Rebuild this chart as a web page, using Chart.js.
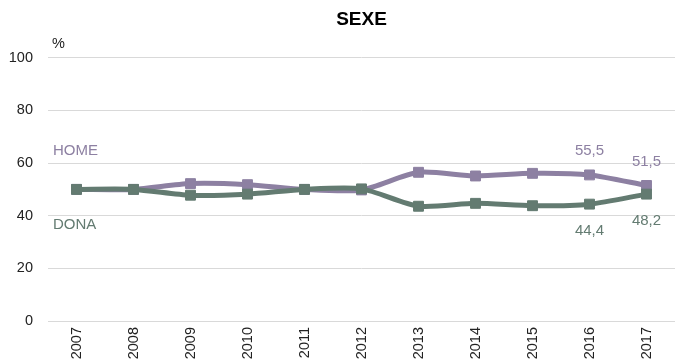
<!DOCTYPE html>
<html lang="ca">
<head>
  <meta charset="UTF-8">
  <title>SEXE</title>
  <script src="https://cdn.jsdelivr.net/npm/chart.js"></script>
  <style>
    html, body { margin: 0; padding: 0; background: #fff; }
    #wrap { width: 683px; height: 363px; }
  </style>
</head>
<body>
  <div id="wrap"><canvas id="sexeChart"></canvas></div>

  <script>
    // Dades
    const anys = ['2007', '2008', '2009', '2010', '2011', '2012', '2013', '2014', '2015', '2016', '2017'];
    const home = [50, 50, 52.2, 51.8, 50, 49.8, 56.5, 55.1, 56.1, 55.5, 51.5];
    const dona = [50, 50, 47.8, 48.2, 50, 50.2, 43.6, 44.7, 43.8, 44.4, 48.2];
    const ticksY = [0, 20, 40, 60, 80, 100];

    const colHome = '#8d80a2';
    const colDona = '#637b71';
    const fontFam = '"Liberation Sans", Arial, sans-serif';

    // Etiquetes de sèrie, unitat i valors finals
    const textos = {
      id: 'textos',
      afterDatasetsDraw(chart) {
        const ctx = chart.ctx;
        const y = chart.scales.y;
        const area = chart.chartArea;
        ctx.save();
        ctx.textBaseline = 'middle';

        ctx.font = '14.5px ' + fontFam;
        ctx.fillStyle = '#222';
        ctx.textAlign = 'left';
        ctx.fillText('%', area.left + 4, 44);

        ctx.font = '15px ' + fontFam;
        ctx.fillStyle = colHome;
        ctx.fillText('HOME', area.left + 5, y.getPixelForValue(64.5));
        ctx.fillStyle = colDona;
        ctx.fillText('DONA', area.left + 5, y.getPixelForValue(36.6));

        ctx.textAlign = 'center';
        const mHome = chart.getDatasetMeta(1).data;
        const mDona = chart.getDatasetMeta(0).data;
        [9, 10].forEach(i => {
          ctx.fillStyle = colHome;
          ctx.fillText(String(home[i]).replace('.', ','), mHome[i].x, mHome[i].y - 24);
          ctx.fillStyle = colDona;
          ctx.fillText(String(dona[i]).replace('.', ','), mDona[i].x, mDona[i].y + 27);
        });
        ctx.restore();
      }
    };

    new Chart(document.getElementById('sexeChart').getContext('2d'), {
      type: 'line',
      data: {
        labels: anys,
        datasets: [
          {
            label: 'DONA',
            data: dona,
            borderColor: colDona,
            backgroundColor: colDona,
            borderWidth: 5,
            pointStyle: 'rect',
            pointRadius: 7,
            pointBorderWidth: 1,
            tension: 0.25
          },
          {
            label: 'HOME',
            data: home,
            borderColor: colHome,
            backgroundColor: colHome,
            borderWidth: 5,
            pointStyle: 'rect',
            pointRadius: 7,
            pointBorderWidth: 1,
            tension: 0.25
          }
        ]
      },
      options: {
        responsive: true,
        maintainAspectRatio: false,
        animation: false,
        layout: { padding: { top: 0, right: 0, left: 8, bottom: 0 } },
        plugins: {
          legend: { display: false },
          tooltip: { enabled: false },
          title: {
            display: true,
            text: 'SEXE',
            fullSize: false,
            color: '#000',
            font: { family: fontFam, size: 19, weight: 'bold' },
            padding: { top: 8, bottom: 27 }
          }
        },
        scales: {
          x: {
            offset: true,
            grid: { display: false, drawTicks: false },
            border: { display: false },
            afterFit(axis) { axis.height = 42; },
            ticks: {
              color: '#222',
              font: { family: fontFam, size: 14.5 },
              maxRotation: 90,
              minRotation: 90,
              padding: 6
            }
          },
          y: {
            min: 0,
            max: 100,
            afterBuildTicks(axis) {
              axis.ticks = ticksY.map(v => ({ value: v }));
            },
            afterFit(axis) { axis.width = 40; },
            grid: { color: '#d9d9d9', lineWidth: 1, drawTicks: false },
            border: { display: false },
            ticks: {
              color: '#222',
              font: { family: fontFam, size: 14.5 },
              padding: 15
            }
          }
        }
      },
      plugins: [textos]
    });
  </script>
</body>
</html>
